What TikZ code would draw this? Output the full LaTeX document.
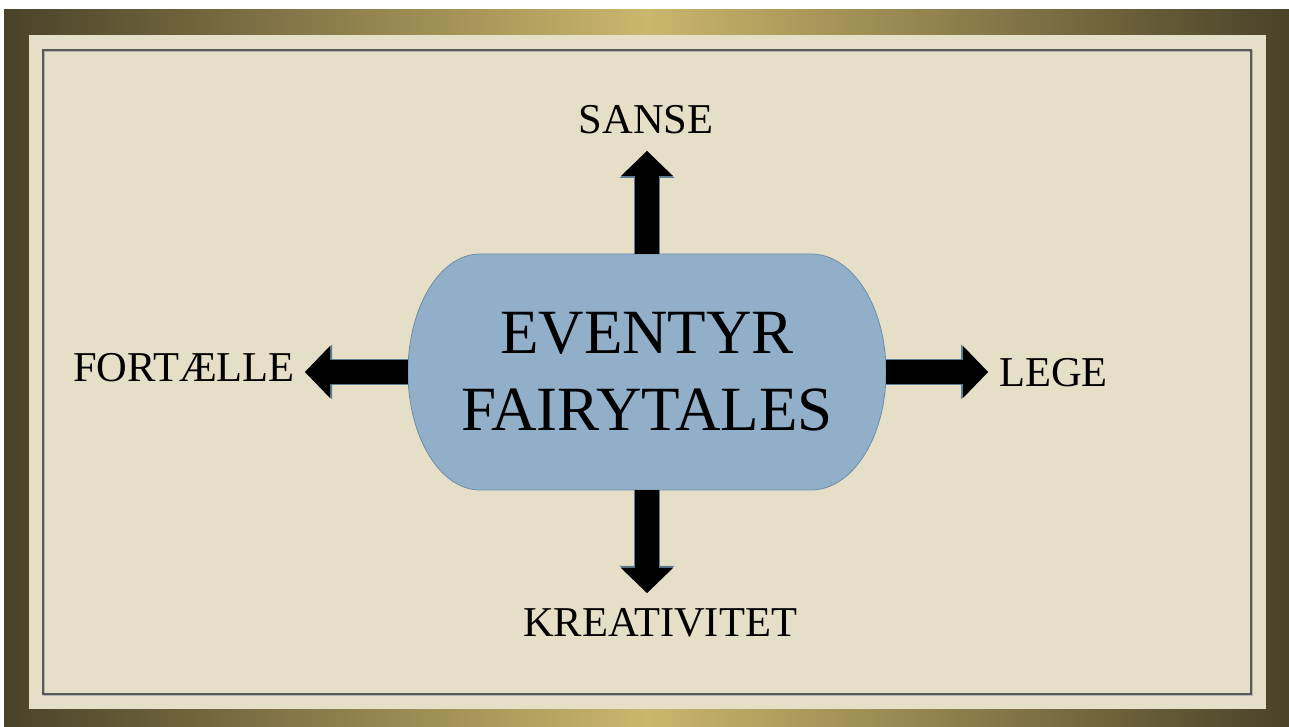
\documentclass[tikz,border=0pt]{standalone}
\usepackage{fontspec}
\setmainfont{Liberation Serif}
\usetikzlibrary{arrows.meta}
\definecolor{frameDark}{HTML}{4A4229}
\definecolor{frameGold}{HTML}{CBB66C}
\definecolor{cream}{HTML}{E6DFC7}
\definecolor{boxBlue}{HTML}{91AFC9}
\definecolor{boxEdge}{HTML}{6D8CA7}
\definecolor{arrowEdge}{HTML}{5F7A94}

\begin{document}
\begin{tikzpicture}[x=1pt, y=1pt,
  word/.style={font=\fontsize{42.5}{50}\selectfont, inner sep=0pt},
  arrowrim/.style={draw=arrowEdge, line width=26pt, -{Triangle[length=27pt, width=55pt, line width=0pt]}},
  arrowbody/.style={draw=black, line width=24pt, -{Triangle[length=25pt, width=52pt, line width=0pt]}}]
  \useasboundingbox (0,0) rectangle (1289,727);
  % frame and mat
  \fill[left color=frameDark, right color=frameDark, middle color=frameGold] (4,0) rectangle (1289,717);
  \fill[cream] (29,18) rectangle (1266,692);
  \draw[gray!60, line width=1.6pt] (44,32) rectangle (1252,676);
  \draw[black!65, line width=1.1pt] (43,33) rectangle (1251,677);
  % centre box
  \filldraw[fill=boxBlue, draw=boxEdge, line width=0.8pt] (480,473) -- (811,473)
    arc[start angle=90, end angle=-90, x radius=75, y radius=118] -- (480,237)
    arc[start angle=-90, end angle=-270, x radius=72, y radius=118] -- cycle;
  \node[align=center, font=\fontsize{63}{77}\selectfont, inner sep=0pt,
        minimum width=478pt, minimum height=236pt] (box) at (647,355) {EVENTYR\\FAIRYTALES};
  \node[word, anchor=base] (sanse) at (646,593) {SANSE};
  \node[word, anchor=base west] (lege) at (999,340) {LEGE};
  \node[word, anchor=base east] (fortaelle) at (295,345) {FORTÆLLE};
  \node[word, anchor=base] (kreativitet) at (660,90) {KREATIVITET};
  \coordinate (sanseTip) at (647,576);
  \coordinate (legeTip) at (988,355);
  \coordinate (kreaTip) at (647,134);
  \coordinate (fortTip) at (305,355);
  \foreach \side/\tip in {north/sanseTip, east/legeTip, south/kreaTip, west/fortTip} {
    \draw[arrowrim] (box.\side) -- (\tip);
    \draw[arrowbody] (box.\side) -- (\tip);
  }
\end{tikzpicture}
\end{document}
